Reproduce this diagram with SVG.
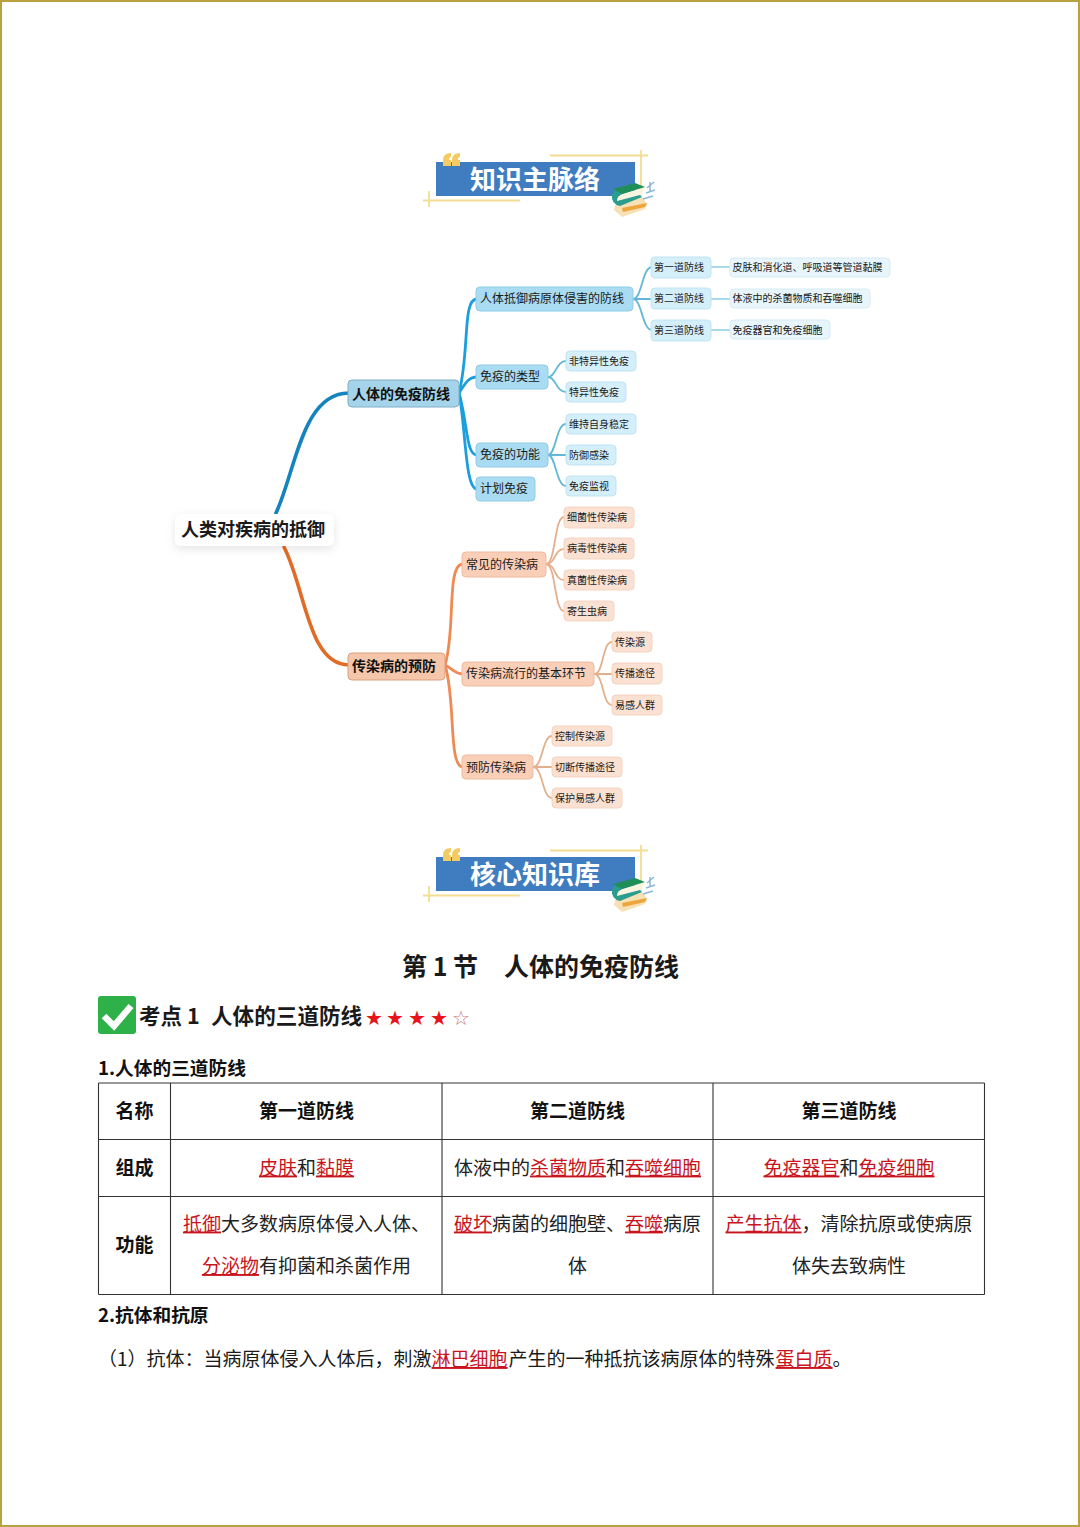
<svg xmlns="http://www.w3.org/2000/svg" width="1080" height="1527" viewBox="0 0 1080 1527">
<style>
text{font-family:"Noto Sans CJK SC","Noto Sans",sans-serif;fill:#1a1a1a}
.b3{fill:#d5effa;stroke:#bfe3f3;stroke-width:1}
.b3d{fill:#e8f5fb;stroke:#d5ebf5;stroke-width:1}
.b2{fill:#a9dcf3;stroke:#8fcbe6;stroke-width:1}
.b1{fill:#a4d3ea;stroke:#7fb0c8;stroke-width:1}
.o1{fill:#f6c6ab;stroke:#d9a183;stroke-width:1}
.o2{fill:#f9cfb8;stroke:#efbb9f;stroke-width:1}
.o3{fill:#fbe1d2;stroke:#f3d3c0;stroke-width:1}
.t10{font-size:10px}.t12{font-size:12px}
.t14{font-size:14px;font-weight:700;fill:#111}
.hd{font-size:26px;font-weight:700;fill:#fff;text-anchor:middle}
.th{font-size:19px;font-weight:700;text-anchor:middle;fill:#111}
.td{font-size:19px;text-anchor:middle;fill:#222}
.u{fill:#c8141c;text-decoration:underline}
.h3{font-size:18.7px;font-weight:700;fill:#111}
.star{font-size:20px;fill:#e8141c;font-family:"DejaVu Sans",sans-serif;text-anchor:middle}
.c1{fill:none;stroke-linecap:round;stroke-width:3.6}
.c2{fill:none;stroke-linecap:round;stroke-width:2.8}
.c3{fill:none;stroke-linecap:round;stroke-width:1.8}
.bl2{stroke:#1b9fdc}.bl3{stroke:#62b8d6}.bl4{stroke:#a6d9ea}.or2{stroke:#ee8a52}.or3{stroke:#e3b08e}
.gold{stroke:#f4dc92;stroke-width:1.8;fill:none}
.grid{stroke:#333;stroke-width:1.1;fill:none}
</style>
<defs>
<filter id="sh" x="-20%" y="-40%" width="140%" height="190%"><feDropShadow dx="0" dy="3" stdDeviation="5" flood-color="#000" flood-opacity=".1"/></filter>
<g id="banner">
<path class="gold" d="M550 155.500H648M641 150V196M423 200.500H520M429 191V207"/>
<rect x="436" y="162" width="199" height="34" fill="#3f7cc0"/>
<path d="M443 166V160Q443 153 451 153V157Q449 157 449 160H451V166ZM452 166V160Q452 153 460 153V157Q458 157 458 160H460V166Z" fill="#f2cb63"/>
<path d="M615 205L642 197L647 204L645 209L622 217L614 210Z" fill="#f6e0b4"/>
<path d="M622 208L647 203L645 207L623 212Z" fill="#eda53c"/>
<path d="M622 194L645 187L641 196L617 202Q617 196 622 194Z" fill="#f8f4e0"/>
<path d="M612 195Q614 188 622 188L622 194Q617 196 617 201L640 195L642 197L620 206Q611 204 612 195Z" fill="#2a9d8f"/>
<path d="M613 189L635 183L645 187L622 194Z" fill="#1f8f5a"/>
<path d="M647 188L654 182M646 193L655 190M643 199L653 196M650 182V192" stroke="#8db7d8" stroke-width="1.5" fill="none"/>
</g>
</defs>
<rect width="1080" height="1527" fill="#fff"/>
<rect x="1" y="1" width="1078" height="1525" fill="none" stroke="#b9a23e" stroke-width="2"/>

<g id="banner-1"><use href="#banner"/><text class="hd" x="535" y="189">知识主脉络</text></g>

<g id="connectors">
<path class="c1" stroke="#1583bd" d="M276 513C296 470 302 393 349 393"/>
<path class="c1" stroke="#e06c28" d="M284 547C306 590 308 665 349 665"/>
<g class="c2 bl2">
<path d="M459 393C470 350 462 299 477 299"/>
<path d="M459 393C465 384 468 377 477 377"/>
<path d="M459 393C468 425 466 455 477 455"/>
<path d="M459 393C466 430 465 489 477 489"/>
</g>
<g class="c3 bl3">
<path d="M633 299C642 299 642 267 652 267"/><path d="M633 299H652"/><path d="M633 299C642 299 642 330 652 330"/>
<path d="M548 377C556 377 556 361 566 361"/><path d="M548 377C556 377 556 392 566 392"/>
<path d="M548 455C556 455 556 424 566 424"/><path d="M548 455H566"/><path d="M548 455C556 455 556 486 566 486"/>
</g>
<g class="c3 bl4">
<path d="M711 267H730"/><path d="M711 299H730"/><path d="M711 330H730"/>
</g>
<g class="c2 or2">
<path d="M445 665C456 630 446 564 463 564"/>
<path d="M445 665C452 668 454 674 463 674"/>
<path d="M445 665C456 700 448 767 463 767"/>
</g>
<g class="c3 or3">
<path d="M546 564C556 564 554 517 564 517"/><path d="M546 564C556 564 554 549 564 549"/><path d="M546 564C556 564 554 580 564 580"/><path d="M546 564C556 564 554 611 564 611"/>
<path d="M594 674C604 674 602 642 612 642"/><path d="M594 674H612"/><path d="M594 674C604 674 602 705 612 705"/>
<path d="M533 767C543 767 542 736 552 736"/><path d="M533 767H552"/><path d="M533 767C543 767 542 798 552 798"/>
</g>
</g>

<g id="root"><rect x="175" y="514" width="159" height="32" rx="6" fill="#fff" filter="url(#sh)"/><text x="181" y="536" font-size="18" font-weight="700" fill="#111">人类对疾病的抵御</text></g>

<g id="n-immune"><rect class="b1" x="348" y="380" width="111" height="27" rx="4"/><text class="t14" x="352" y="399">人体的免疫防线</text></g>
<g id="n-defense"><rect class="b2" x="476" y="287" width="157" height="24" rx="4"/><text class="t12" x="480" y="303">人体抵御病原体侵害的防线</text></g>
<g id="n-types"><rect class="b2" x="476" y="365" width="72" height="24" rx="4"/><text class="t12" x="480" y="381">免疫的类型</text></g>
<g id="n-func"><rect class="b2" x="476" y="443" width="72" height="24" rx="4"/><text class="t12" x="480" y="459">免疫的功能</text></g>
<g id="n-plan"><rect class="b2" x="476" y="477" width="59" height="24" rx="4"/><text class="t12" x="480" y="493">计划免疫</text></g>
<g id="n-l1"><rect class="b3" x="651" y="257" width="60" height="21" rx="4"/><text class="t10" x="654" y="271">第一道防线</text></g>
<g id="n-l2"><rect class="b3" x="651" y="288" width="60" height="21" rx="4"/><text class="t10" x="654" y="302">第二道防线</text></g>
<g id="n-l3"><rect class="b3" x="651" y="320" width="60" height="21" rx="4"/><text class="t10" x="654" y="334">第三道防线</text></g>
<g id="n-d1"><rect class="b3d" x="730" y="258" width="160" height="19" rx="4"/><text class="t10" x="732.500" y="271">皮肤和消化道、呼吸道等管道黏膜</text></g>
<g id="n-d2"><rect class="b3d" x="730" y="289" width="140" height="19" rx="4"/><text class="t10" x="732.500" y="302">体液中的杀菌物质和吞噬细胞</text></g>
<g id="n-d3"><rect class="b3d" x="730" y="320" width="100" height="19" rx="4"/><text class="t10" x="732.500" y="334">免疫器官和免疫细胞</text></g>
<g id="n-t1"><rect class="b3" x="566" y="351" width="70" height="20" rx="4"/><text class="t10" x="569" y="365">非特异性免疫</text></g>
<g id="n-t2"><rect class="b3" x="566" y="382" width="60" height="20" rx="4"/><text class="t10" x="569" y="396">特异性免疫</text></g>
<g id="n-f1"><rect class="b3" x="566" y="414" width="70" height="20" rx="4"/><text class="t10" x="569" y="428">维持自身稳定</text></g>
<g id="n-f2"><rect class="b3" x="566" y="445" width="50" height="20" rx="4"/><text class="t10" x="569" y="459">防御感染</text></g>
<g id="n-f3"><rect class="b3" x="566" y="476" width="50" height="20" rx="4"/><text class="t10" x="569" y="490">免疫监视</text></g>

<g id="n-prevent"><rect class="o1" x="348" y="653" width="97" height="27" rx="4"/><text class="t14" x="352" y="671">传染病的预防</text></g>
<g id="n-common"><rect class="o2" x="462" y="552" width="84" height="25" rx="4"/><text class="t12" x="466" y="569">常见的传染病</text></g>
<g id="n-links"><rect class="o2" x="462" y="662" width="132" height="24" rx="4"/><text class="t12" x="466" y="678">传染病流行的基本环节</text></g>
<g id="n-measures"><rect class="o2" x="462" y="755" width="71" height="24" rx="4"/><text class="t12" x="466" y="772">预防传染病</text></g>
<g id="n-c1"><rect class="o3" x="564" y="507" width="70" height="21" rx="4"/><text class="t10" x="567" y="521">细菌性传染病</text></g>
<g id="n-c2"><rect class="o3" x="564" y="538" width="70" height="21" rx="4"/><text class="t10" x="567" y="552">病毒性传染病</text></g>
<g id="n-c3"><rect class="o3" x="564" y="570" width="70" height="20" rx="4"/><text class="t10" x="567" y="584">真菌性传染病</text></g>
<g id="n-c4"><rect class="o3" x="564" y="601" width="50" height="20" rx="4"/><text class="t10" x="567" y="615">寄生虫病</text></g>
<g id="n-k1"><rect class="o3" x="612" y="632" width="40" height="20" rx="4"/><text class="t10" x="615" y="646">传染源</text></g>
<g id="n-k2"><rect class="o3" x="612" y="663" width="50" height="21" rx="4"/><text class="t10" x="615" y="677">传播途径</text></g>
<g id="n-k3"><rect class="o3" x="612" y="695" width="50" height="20" rx="4"/><text class="t10" x="615" y="709">易感人群</text></g>
<g id="n-m1"><rect class="o3" x="552" y="726" width="60" height="20" rx="4"/><text class="t10" x="555" y="740">控制传染源</text></g>
<g id="n-m2"><rect class="o3" x="552" y="757" width="70" height="20" rx="4"/><text class="t10" x="555" y="771">切断传播途径</text></g>
<g id="n-m3"><rect class="o3" x="552" y="788" width="70" height="20" rx="4"/><text class="t10" x="555" y="802">保护易感人群</text></g>

<g id="banner-2"><use href="#banner" y="695"/><text class="hd" x="535" y="884">核心知识库</text></g>

<text x="402" y="976" font-size="25" font-weight="700" fill="#111">第 1 节</text>
<text x="504" y="976" font-size="25" font-weight="700" fill="#111">人体的免疫防线</text>

<g id="check"><rect x="98" y="996" width="38" height="38" rx="3" fill="#2fb14a"/><path d="M104 1016L114 1026L131 1006" fill="none" stroke="#fff" stroke-width="6.500"/></g>
<text x="139" y="1024" font-size="21.500" font-weight="700" fill="#111">考点 1</text>
<text x="211" y="1024" font-size="21.600" font-weight="700" fill="#111">人体的三道防线</text>
<g id="stars"><text class="star" x="374" y="1025">★</text><text class="star" x="395" y="1025">★</text><text class="star" x="417" y="1025">★</text><text class="star" x="439" y="1025">★</text><text class="star" x="461" y="1025" style="fill:#c77">☆</text></g>

<text class="h3" x="98" y="1075">1.人体的三道防线</text>

<g id="table">
<path class="grid" d="M98.500 1083H984.500M98.500 1139.500H984.500M98.500 1196.500H984.500M98.500 1294.500H984.500M98.500 1083V1294.500M170.500 1083V1294.500M442 1083V1294.500M713 1083V1294.500M984.500 1083V1294.500"/>
<text class="th" x="134.500" y="1117.500">名称</text>
<text class="th" x="306.500" y="1117.500">第一道防线</text>
<text class="th" x="577.500" y="1117.500">第二道防线</text>
<text class="th" x="849" y="1117.500">第三道防线</text>
<text class="th" x="134.500" y="1174.500">组成</text>
<text class="td" x="306.500" y="1174.500"><tspan class="u">皮肤</tspan>和<tspan class="u">黏膜</tspan></text>
<text class="td" x="577.500" y="1174.500">体液中的<tspan class="u">杀菌物质</tspan>和<tspan class="u">吞噬细胞</tspan></text>
<text class="td" x="849" y="1174.500"><tspan class="u">免疫器官</tspan>和<tspan class="u">免疫细胞</tspan></text>
<text class="th" x="134.500" y="1251.500">功能</text>
<text class="td" x="306.500" y="1230.500"><tspan class="u">抵御</tspan>大多数病原体侵入人体、</text>
<text class="td" x="306.500" y="1273"><tspan class="u">分泌物</tspan>有抑菌和杀菌作用</text>
<text class="td" x="577.500" y="1230.500"><tspan class="u">破坏</tspan>病菌的细胞壁、<tspan class="u">吞噬</tspan>病原</text>
<text class="td" x="577.500" y="1273">体</text>
<text class="td" x="849" y="1230.500"><tspan class="u">产生抗体</tspan>，清除抗原或使病原</text>
<text class="td" x="849" y="1273">体失去致病性</text>
</g>

<text class="h3" x="98" y="1322">2.抗体和抗原</text>
<text x="98" y="1366" font-size="19" fill="#222">（1）抗体：当病原体侵入人体后，刺激<tspan class="u">淋巴细胞</tspan><tspan dx="1">产生的一种抵抗该病原体的特殊</tspan><tspan class="u" dx="1">蛋白质</tspan>。</text>
</svg>
